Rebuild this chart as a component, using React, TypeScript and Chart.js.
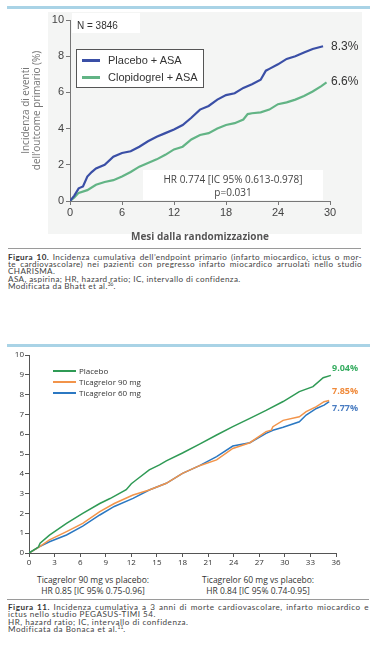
import React, { useEffect, useRef, useMemo } from "react";
import { Chart, registerables } from "chart.js";
Chart.register(...registerables);

// ---------- Figura 10 (CHARISMA) ----------
const f10XTicks = [0, 6, 12, 18, 24, 30];
const f10YTicks = [0, 2, 4, 6, 8, 10];
const f10PlaceboMonths = [0, 0.5, 1, 1.5, 2, 2.5, 3, 4, 5, 6, 7, 8, 9, 10, 11, 12, 13, 14, 15, 16, 17, 18, 19, 20, 21, 22, 22.6, 23, 24, 25, 26, 27, 28, 29.2];
const f10Placebo = [0, 0.3, 0.7, 0.8, 1.35, 1.6, 1.8, 2.0, 2.45, 2.65, 2.75, 3.0, 3.3, 3.55, 3.75, 3.95, 4.2, 4.6, 5.05, 5.25, 5.6, 5.85, 5.95, 6.25, 6.45, 6.7, 7.2, 7.3, 7.55, 7.85, 8.0, 8.2, 8.4, 8.55];
const f10ClopiMonths = [0, 0.5, 1, 2, 3, 4, 5, 6, 7, 8, 9, 10, 11, 12, 13, 14, 15, 16, 17, 18, 19, 20, 20.5, 21, 22, 23, 24, 25, 26, 27, 28, 29, 29.6];
const f10Clopi = [0, 0.2, 0.45, 0.6, 0.9, 1.05, 1.15, 1.35, 1.6, 1.9, 2.1, 2.3, 2.55, 2.85, 3.0, 3.4, 3.65, 3.75, 4.0, 4.2, 4.3, 4.5, 4.8, 4.85, 4.9, 5.05, 5.35, 5.45, 5.6, 5.8, 6.05, 6.35, 6.55];
const f10Series = ["Placebo + ASA", "Clopidogrel + ASA"];
const f10EndLabels = ["8.3%", "6.6%"];

// ---------- Figura 11 (PEGASUS-TIMI 54) ----------
const f11XTicks = [0, 3, 6, 9, 12, 15, 18, 21, 24, 27, 30, 33, 36];
const f11YTicks = [0, 1, 2, 3, 4, 5, 6, 7, 8, 9, 10];
const f11PlaceboMonths = [0, 1.1, 1.3, 2.4, 4.4, 6.3, 8.3, 9.5, 11.4, 12.0, 12.6, 14.1, 15.3, 16.1, 18, 20, 22, 23.9, 25.9, 27.8, 29.8, 31.7, 33.3, 34.5, 35.4];
const f11Placebo = [0, 0.3, 0.49, 0.9, 1.5, 2.0, 2.5, 2.75, 3.2, 3.5, 3.7, 4.2, 4.45, 4.65, 5.05, 5.5, 5.96, 6.38, 6.8, 7.2, 7.65, 8.15, 8.4, 8.85, 8.97];
const f11T90Months = [0, 1.25, 2.4, 4.4, 6.3, 8.3, 10, 12.2, 14.1, 16.1, 18, 20, 22, 23.9, 25.9, 27.8, 28.4, 28.6, 29.8, 31.7, 32.5, 33.7, 34.6, 35.2];
const f11T90 = [0, 0.32, 0.66, 1.08, 1.5, 2.09, 2.5, 2.93, 3.18, 3.52, 4.02, 4.41, 4.7, 5.28, 5.57, 6.13, 6.2, 6.38, 6.7, 6.88, 7.14, 7.39, 7.64, 7.7];
const f11T60Months = [0, 1.25, 2.4, 4.4, 6.3, 8.3, 10, 12.2, 14.1, 16.1, 18, 20, 22, 23.9, 25.9, 27.8, 28.6, 29.8, 31.7, 32.5, 33.7, 34.6, 35.2];
const f11T60 = [0, 0.32, 0.57, 0.91, 1.36, 1.92, 2.35, 2.76, 3.18, 3.52, 4.02, 4.41, 4.87, 5.4, 5.57, 6.04, 6.2, 6.35, 6.63, 6.97, 7.3, 7.47, 7.64];
const f11Series = ["Placebo", "Ticagrelor 90 mg", "Ticagrelor 60 mg"];
const f11EndLabels = ["9.04%", "7.85%", "7.77%"];

// ---------- captions ----------
const cap10Head = "Figura 10.";
const cap10Lines = [
  " Incidenza cumulativa dell\u2019endpoint primario (infarto miocardico, ictus o mor-",
  "te cardiovascolare) nei pazienti con pregresso infarto miocardico arruolati nello studio",
  "CHARISMA.",
  "ASA, aspirina; HR, hazard ratio; IC, intervallo di confidenza.",
  "Modificata da Bhatt et al.",
];
const cap10Ref = "36";
const cap11Head = "Figura 11.";
const cap11Lines = [
  " Incidenza cumulativa a 3 anni di morte cardiovascolare, infarto miocardico e",
  "ictus nello studio PEGASUS-TIMI 54.",
  "HR, hazard ratio; IC, intervallo di confidenza.",
  "Modificata da Bonaca et al.",
];
const cap11Ref = "11";

const C10 = { placebo: "#3a4fa6", clopi: "#62b485" };
const C11 = { placebo: "#2f9a55", t90: "#f2944a", t60: "#2b78c2" };
const C11Label = { placebo: "#38ad62", t90: "#f08a3a", t60: "#4a7dc2" };
const CAP_FONT = "Lato";
const CAP_SIZE = 8.1;

const pts = (xs: number[], ys: number[]) => xs.map((x, i) => ({ x, y: ys[i] }));

// letter-spacing so that the first caption line fills the measure at CAP_SIZE
function fitSpacing(head: string, rest: string, target: number): number {
  try {
    const ctx = document.createElement("canvas").getContext("2d")!;
    ctx.font = `bold ${CAP_SIZE}px ${CAP_FONT}`;
    const a = ctx.measureText(head).width;
    ctx.font = `${CAP_SIZE}px ${CAP_FONT}`;
    const b = ctx.measureText(rest).width;
    const n = head.length + rest.length;
    return Math.max(0, Math.min(0.5, (target - a - b) / n));
  } catch {
    return 0.2;
  }
}

function useChart(ref: React.RefObject<HTMLCanvasElement | null>, make: (c: HTMLCanvasElement) => Chart) {
  useEffect(() => {
    if (!ref.current) return;
    const ch = make(ref.current);
    return () => ch.destroy();
  }, []);
}

const abs = (o: React.CSSProperties): React.CSSProperties => ({ position: "absolute", ...o });

export default function App() {
  const ref1 = useRef<HTMLCanvasElement>(null);
  const ref2 = useRef<HTMLCanvasElement>(null);
  const ls10 = useMemo(() => fitSpacing(cap10Head, cap10Lines[0], 354 - 12), []);
  const ls11 = useMemo(() => fitSpacing(cap11Head, cap11Lines[0], 361 - 12), []);

  useChart(ref1, (c) =>
    new Chart(c, {
      type: "line",
      data: {
        datasets: [
          { label: f10Series[0], data: pts(f10PlaceboMonths, f10Placebo), borderColor: C10.placebo, borderWidth: 2.2, pointRadius: 0, fill: false },
          { label: f10Series[1], data: pts(f10ClopiMonths, f10Clopi), borderColor: C10.clopi, borderWidth: 2.2, pointRadius: 0, fill: false },
        ],
      },
      options: {
        animation: false,
        responsive: false,
        layout: { padding: { top: 20, right: 47, left: 0, bottom: 0 } },
        plugins: { legend: { display: false }, tooltip: { enabled: false } },
        scales: {
          x: {
            type: "linear", min: 0, max: 30,
            afterBuildTicks: (s: any) => { s.ticks = f10XTicks.map((v) => ({ value: v })); },
            ticks: { color: "#444", font: { family: "Liberation Sans", size: 11 }, padding: 1 },
            grid: { drawOnChartArea: false, tickLength: 4, color: "#777" },
            border: { color: "#777" },
            title: { display: true, text: "Mesi dalla randomizzazione", color: "#555", font: { family: "Open Sans", size: 10, weight: "bold", lineHeight: 1.2 }, padding: { top: 0, bottom: 2 } },
            afterFit: (s: any) => { s.height = 44; },
          },
          y: {
            min: 0, max: 10,
            afterBuildTicks: (s: any) => { s.ticks = f10YTicks.map((v) => ({ value: v })); },
            ticks: { color: "#444", font: { family: "Liberation Sans", size: 11 }, padding: 2 },
            grid: { drawOnChartArea: false, tickLength: 4, color: "#777" },
            border: { color: "#777" },
            title: { display: true, text: ["Incidenza di eventi", "dell\u2019outcome primario (%)"], color: "#777", font: { family: "Open Sans", size: 10, lineHeight: 1.1 }, padding: { top: 21, bottom: 0 } },
            afterFit: (s: any) => { s.width = 70; },
          },
        },
      },
    } as any)
  );

  useChart(ref2, (c) =>
    new Chart(c, {
      type: "line",
      data: {
        datasets: [
          { label: f11Series[0], data: pts(f11PlaceboMonths, f11Placebo), borderColor: C11.placebo, borderWidth: 1.5, pointRadius: 0, fill: false },
          { label: f11Series[1], data: pts(f11T90Months, f11T90), borderColor: C11.t90, borderWidth: 1.5, pointRadius: 0, fill: false },
          { label: f11Series[2], data: pts(f11T60Months, f11T60), borderColor: C11.t60, borderWidth: 1.5, pointRadius: 0, fill: false },
        ],
      },
      options: {
        animation: false,
        responsive: false,
        layout: { padding: { top: 8, right: 41, left: 0, bottom: 0 } },
        plugins: { legend: { display: false }, tooltip: { enabled: false } },
        scales: {
          x: {
            type: "linear", min: 0, max: 36,
            afterBuildTicks: (s: any) => { s.ticks = f11XTicks.map((v) => ({ value: v })); },
            ticks: { color: "#333", font: { family: "Open Sans", size: 8 }, padding: 1 },
            grid: { drawOnChartArea: false, tickLength: 4, color: "#555" },
            border: { color: "#555" },
            afterFit: (s: any) => { s.height = 17; },
          },
          y: {
            min: 0, max: 10,
            afterBuildTicks: (s: any) => { s.ticks = f11YTicks.map((v) => ({ value: v })); },
            ticks: { color: "#333", font: { family: "Open Sans", size: 8 }, padding: 1 },
            grid: { drawOnChartArea: false, tickLength: 4, color: "#555" },
            border: { color: "#555" },
            afterFit: (s: any) => { s.width = 29; },
          },
        },
      },
    } as any)
  );

  const cap = (ls: number, lh: number): React.CSSProperties => ({ fontFamily: CAP_FONT, fontSize: CAP_SIZE, letterSpacing: ls, lineHeight: `${lh}px`, color: "#444", whiteSpace: "nowrap" });
  const just: React.CSSProperties = { textAlign: "justify", textAlignLast: "justify" } as any;
  const sup: React.CSSProperties = { fontSize: 5, lineHeight: 0, verticalAlign: "3px", letterSpacing: 0 };

  return (
    <div style={abs({ left: 0, top: 0, width: 377, height: 655, background: "#fff", overflow: "hidden" })}>
      {/* Figure 10 */}
      <div style={abs({ left: 7, top: 6, width: 363, height: 3, background: "#a9d3e6" })} />
      <div style={abs({ left: 48, top: 12, width: 314, height: 222, background: "#f4f5f4" })} />
      <div style={abs({ left: 72, top: 13, width: 68, height: 20, background: "#fff" })} />
      <div style={abs({ left: 143, top: 170, width: 180, height: 30, background: "#fff" })} />
      <canvas ref={ref1} width={377} height={245} style={abs({ left: 0, top: 0, width: 377, height: 245 })} />
      <div style={abs({ left: 77, top: 19, fontFamily: "Liberation Sans", fontSize: 10, lineHeight: "14px", color: "#333" })}>N = 3846</div>
      <div style={abs({ left: 76, top: 49, width: 126, height: 37, border: "1px solid #555", background: "#fff" })}>
        <div style={abs({ left: 5, top: 9, width: 18, height: 3, background: C10.placebo })} />
        <div style={abs({ left: 31, top: 3, fontFamily: "Liberation Sans", fontSize: 11, lineHeight: "14px", color: "#333", whiteSpace: "nowrap" })}>{f10Series[0]}</div>
        <div style={abs({ left: 5, top: 26, width: 18, height: 3, background: C10.clopi })} />
        <div style={abs({ left: 31, top: 20, fontFamily: "Liberation Sans", fontSize: 11, lineHeight: "14px", color: "#333", whiteSpace: "nowrap" })}>{f10Series[1]}</div>
      </div>
      <div style={abs({ left: 331, top: 38, fontFamily: "Liberation Sans", fontSize: 12, lineHeight: "16px", color: "#333" })}>{f10EndLabels[0]}</div>
      <div style={abs({ left: 331, top: 73, fontFamily: "Liberation Sans", fontSize: 12, lineHeight: "16px", color: "#333" })}>{f10EndLabels[1]}</div>
      <div style={abs({ left: 133, top: 173, width: 200, textAlign: "center", fontFamily: "Open Sans", fontSize: 10, lineHeight: "13px", color: "#444" })}>
        HR 0.774 [IC 95% 0.613-0.978]<br />p=0.031
      </div>

      <div style={abs({ left: 8, top: 248, width: 353, height: 1, background: "#9a9a9a" })} />
      <div style={abs({ left: 8, top: 253.5, width: 354, ...cap(ls10, 7.4) })}>
        <div style={just}><b style={{ color: "#333" }}>{cap10Head}</b>{cap10Lines[0]}</div>
        <div style={just}>{cap10Lines[1]}</div>
        <div>{cap10Lines[2]}</div>
        <div>{cap10Lines[3]}</div>
        <div>{cap10Lines[4]}<sup style={sup}>{cap10Ref}</sup>.</div>
      </div>

      {/* Figure 11 */}
      <div style={abs({ left: 7, top: 344, width: 363, height: 3, background: "#a9d3e6" })} />
      <canvas ref={ref2} width={377} height={223} style={abs({ left: 0, top: 347, width: 377, height: 223 })} />
      {[C11.placebo, C11.t90, C11.t60].map((col, i) => (
        <React.Fragment key={i}>
          <div style={abs({ left: 53, top: 370 + i * 11, width: 23, height: 2, background: col })} />
          <div style={abs({ left: 79, top: 365 + i * 11, fontFamily: "Open Sans", fontSize: 8, lineHeight: "11px", color: "#333", whiteSpace: "nowrap" })}>{f11Series[i]}</div>
        </React.Fragment>
      ))}
      {[C11Label.placebo, C11Label.t90, C11Label.t60].map((col, i) => (
        <div key={i} style={abs({ left: 332, top: [362, 385, 402][i], fontFamily: "Open Sans", fontSize: 9, fontWeight: "bold", lineHeight: "12px", color: col })}>{f11EndLabels[i]}</div>
      ))}
      <div style={abs({ left: 13, top: 574, width: 160, textAlign: "center", fontFamily: "Open Sans", fontSize: 8.5, lineHeight: "11px", color: "#333" })}>
        Ticagrelor 90 mg vs placebo:<br />HR 0.85 [IC 95% 0.75-0.96]
      </div>
      <div style={abs({ left: 178, top: 574, width: 160, textAlign: "center", fontFamily: "Open Sans", fontSize: 8.5, lineHeight: "11px", color: "#333" })}>
        Ticagrelor 60 mg vs placebo:<br />HR 0.84 [IC 95% 0.74-0.95]
      </div>
      <div style={abs({ left: 7, top: 599, width: 362, height: 1, background: "#9a9a9a" })} />
      <div style={abs({ left: 8, top: 603.5, width: 361, ...cap(ls11, 7.5) })}>
        <div style={just}><b style={{ color: "#333" }}>{cap11Head}</b>{cap11Lines[0]}</div>
        <div>{cap11Lines[1]}</div>
        <div>{cap11Lines[2]}</div>
        <div>{cap11Lines[3]}<sup style={sup}>{cap11Ref}</sup>.</div>
      </div>
    </div>
  );
}
